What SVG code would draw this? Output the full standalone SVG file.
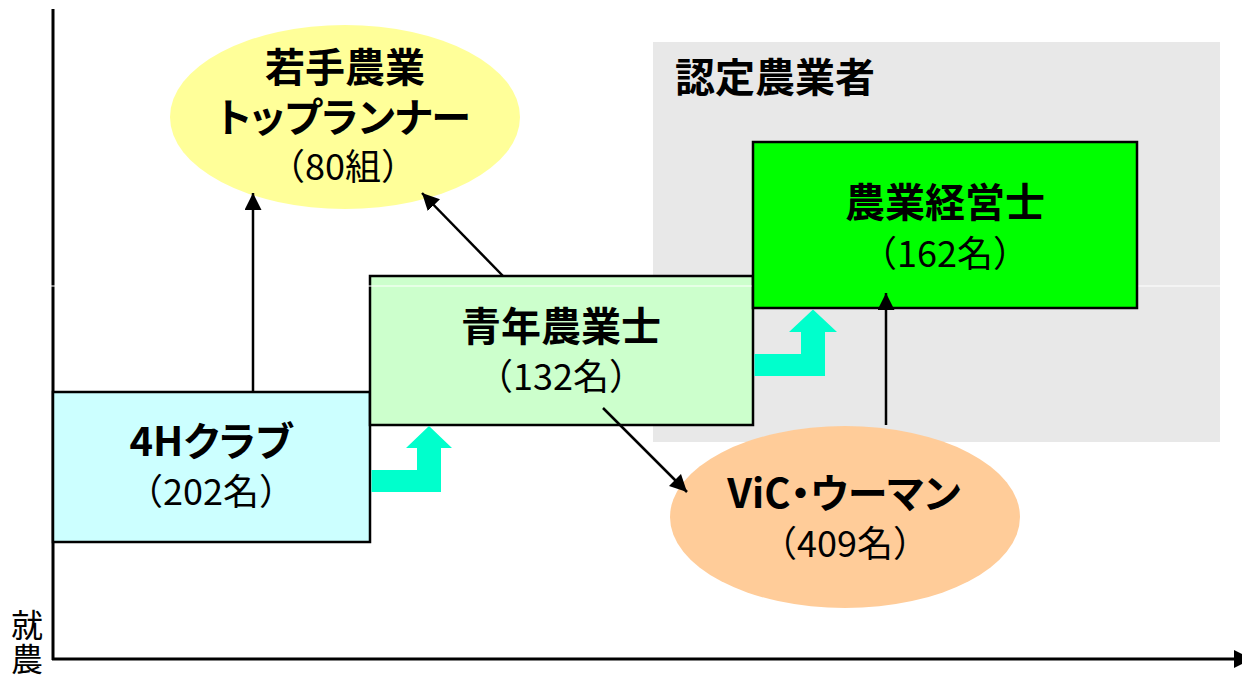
<svg xmlns="http://www.w3.org/2000/svg" width="1242" height="675" viewBox="0 0 1242 675">
<defs>
<style>
text{font-family:"Noto Sans CJK JP","Noto Sans",sans-serif;fill:#000;}
.h{font-size:40px;font-weight:bold;text-anchor:middle;}
.s{font-size:36px;font-weight:normal;text-anchor:middle;}
.kana{font-feature-settings:"palt" 1;}
.box{stroke:#000;stroke-width:2.5;}
.conn{stroke:#000;stroke-width:2.5;fill:none;marker-end:url(#ah);}
.teal{fill:#00ffcc;stroke:none;}
</style>
<marker id="ah" viewBox="0 0 10 10" refX="10" refY="5" markerUnits="userSpaceOnUse" markerWidth="17" markerHeight="17" orient="auto">
<path d="M0,0 L10,5 L0,10 z" fill="#000"/>
</marker>
</defs>
<rect width="1242" height="675" fill="#fff"/>

<g id="region-nintei">
<rect x="653" y="42" width="567" height="400" fill="#e8e8e8"/>
<text x="675" y="92" style="font-size:40px;font-weight:bold;">認定農業者</text>
</g>

<g id="axes">
<line x1="53" y1="9" x2="53" y2="660" stroke="#000" stroke-width="3"/>
<line x1="52" y1="659" x2="1236" y2="659" stroke="#000" stroke-width="3"/>
<polygon points="1234,650 1252,659 1234,668" fill="#000"/>
<text x="27" y="637" style="font-size:32px;text-anchor:middle;">就</text>
<text x="27" y="671" style="font-size:32px;text-anchor:middle;">農</text>
</g>

<g id="node-wakate">
<ellipse cx="345" cy="117" rx="175" ry="92" fill="#ffff99"/>
<text class="h" x="345" y="82">若手農業</text>
<text class="h kana" x="344" y="132">トップランナー</text>
<text class="s" x="343" y="180">（80組）</text>
</g>

<g id="node-4h">
<rect class="box" x="53" y="392" width="317" height="150" fill="#ccffff"/>
<text class="h kana" x="211" y="456">4Hクラブ</text>
<text class="s" x="211" y="505">（202名）</text>
</g>

<g id="node-seinen">
<rect class="box" x="370" y="276" width="383" height="149" fill="#ccffcc"/>
<text class="h" x="561" y="341">青年農業士</text>
<text class="s" x="561" y="390">（132名）</text>
</g>

<line id="white-line" x1="0" y1="286" x2="1242" y2="286" stroke="#fff" stroke-width="1.2"/>

<g id="node-keiei">
<rect class="box" x="753" y="142" width="384" height="166" fill="#00ff00"/>
<text class="h" x="945" y="217">農業経営士</text>
<text class="s" x="945" y="267">（162名）</text>
</g>

<g id="node-vic">
<ellipse cx="845" cy="517" rx="175" ry="91" fill="#ffcc99"/>
<text class="h kana" x="844" y="508">ViC・ウーマン</text>
<text class="s" x="845" y="557">（409名）</text>
</g>

<g id="connectors">
<line class="conn" x1="253" y1="392" x2="253" y2="193"/>
<line class="conn" x1="503" y1="276" x2="422" y2="193"/>
<line class="conn" x1="603" y1="408" x2="687" y2="492"/>
<line class="conn" x1="886" y1="425" x2="886" y2="293"/>
<polygon class="teal" points="371.5,470 417,470 417,448 406,448 429,426 452,448 441,448 441,492 371.5,492"/>
<polygon class="teal" points="754.5,354 801,354 801,332 789,332 813,309.5 837,332 825,332 825,376 754.5,376"/>
</g>
</svg>
